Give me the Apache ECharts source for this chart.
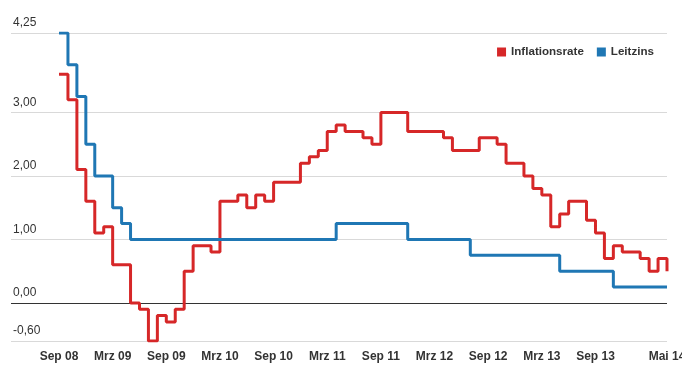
<!DOCTYPE html>
<html>
<head>
<meta charset="utf-8">
<script src="https://cdn.jsdelivr.net/npm/echarts@6/dist/echarts.min.js"></script>
<style>
html,body{margin:0;padding:0;background:#fff;}
#c{width:682px;height:372px;}
</style>
</head>
<body>
<div id="c"></div>
<script>
// Months Sep 08 .. Mai 14 (index 0..68)
var months = [
 'Sep 08','Okt 08','Nov 08','Dez 08',
 'Jan 09','Feb 09','Mrz 09','Apr 09','Mai 09','Jun 09','Jul 09','Aug 09','Sep 09','Okt 09','Nov 09','Dez 09',
 'Jan 10','Feb 10','Mrz 10','Apr 10','Mai 10','Jun 10','Jul 10','Aug 10','Sep 10','Okt 10','Nov 10','Dez 10',
 'Jan 11','Feb 11','Mrz 11','Apr 11','Mai 11','Jun 11','Jul 11','Aug 11','Sep 11','Okt 11','Nov 11','Dez 11',
 'Jan 12','Feb 12','Mrz 12','Apr 12','Mai 12','Jun 12','Jul 12','Aug 12','Sep 12','Okt 12','Nov 12','Dez 12',
 'Jan 13','Feb 13','Mrz 13','Apr 13','Mai 13','Jun 13','Jul 13','Aug 13','Sep 13','Okt 13','Nov 13','Dez 13',
 'Jan 14','Feb 14','Mrz 14','Apr 14','Mai 14'
];
var inflation = [
 3.6,3.2,2.1,1.6,
 1.1,1.2,0.6,0.6,0.0,-0.1,-0.6,-0.2,-0.3,-0.1,0.5,0.9,
 0.9,0.8,1.6,1.6,1.7,1.5,1.7,1.6,1.9,1.9,1.9,2.2,
 2.3,2.4,2.7,2.8,2.7,2.7,2.6,2.5,3.0,3.0,3.0,2.7,
 2.7,2.7,2.7,2.6,2.4,2.4,2.4,2.6,2.6,2.5,2.2,2.2,
 2.0,1.8,1.7,1.2,1.4,1.6,1.6,1.3,1.1,0.7,0.9,0.8,
 0.8,0.7,0.5,0.7,0.5
];
var leitzins = [
 4.25,3.75,3.25,2.5,
 2.0,2.0,1.5,1.25,1.0,1.0,1.0,1.0,1.0,1.0,1.0,1.0,
 1.0,1.0,1.0,1.0,1.0,1.0,1.0,1.0,1.0,1.0,1.0,1.0,
 1.0,1.0,1.0,1.25,1.25,1.25,1.25,1.25,1.25,1.25,1.25,1.0,
 1.0,1.0,1.0,1.0,1.0,1.0,0.75,0.75,0.75,0.75,0.75,0.75,
 0.75,0.75,0.75,0.75,0.5,0.5,0.5,0.5,0.5,0.5,0.25,0.25,
 0.25,0.25,0.25,0.25,0.25
];
var xTickIdx = [0,6,12,18,24,30,36,42,48,54,60,68];
var yTicks = [-0.6,0,1,2,3,4.25];

var FONT = '"Liberation Sans", Arial, sans-serif';
function pairs(arr){ return arr.map(function(v,i){ return [i,v]; }); }

var chart = echarts.init(document.getElementById('c'), null, {renderer:'canvas'});
chart.setOption({
  animation:false,
  textStyle:{fontFamily:FONT},
  grid:{left:11,right:15,top:33,bottom:31,containLabel:false,outerBoundsMode:'none'},
  legend:{
    right:23, top:41, itemWidth:9, itemHeight:9, itemGap:13,
    icon:'rect',
    textStyle:{fontFamily:FONT,fontSize:11.6,fontWeight:'bold',color:'#333'},
    data:['Inflationsrate','Leitzins']
  },
  xAxis:{
    type:'value', min:-5.37, max:68,
    axisLine:{show:false}, axisTick:{show:false, customValues:xTickIdx}, splitLine:{show:false},
    axisLabel:{
      customValues:xTickIdx, margin:10, hideOverlap:false,
      fontFamily:FONT, fontSize:12, fontWeight:'bold', color:'#333',
      formatter:function(v){ return months[Math.round(v)] || ''; }
    }
  },
  yAxis:{
    type:'value', min:-0.6, max:4.25,
    axisLine:{show:false},
    axisTick:{show:false, customValues:yTicks},
    splitLine:{show:true, lineStyle:{color:'#d9d9d9', width:1}},
    axisLabel:{
      customValues:yTicks, inside:true, margin:2, verticalAlign:'bottom',
      padding:[0,0,4,0],
      fontFamily:FONT, fontSize:12, color:'#333',
      formatter:function(v){ return v.toFixed(2).replace('.',','); }
    }
  },
  series:[
    {
      name:'Inflationsrate', type:'line', step:'end', showSymbol:false, symbol:'none',
      data:pairs(inflation), itemStyle:{color:'#d62728'},
      lineStyle:{color:'#d62728', width:3},
      markLine:{silent:true, symbol:'none', label:{show:false},
        lineStyle:{color:'#333', width:1, type:'solid'},
        data:[{yAxis:0}], z:1}
    },
    {
      name:'Leitzins', type:'line', step:'end', showSymbol:false, symbol:'none',
      data:pairs(leitzins), itemStyle:{color:'#1f77b4'},
      lineStyle:{color:'#1f77b4', width:3}
    }
  ]
});
</script>
</body>
</html>
